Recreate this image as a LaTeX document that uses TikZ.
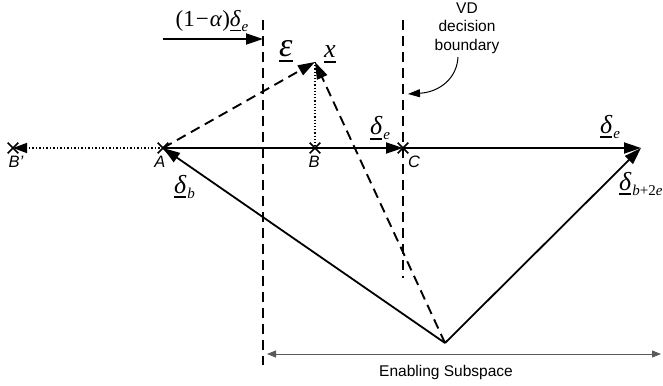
\documentclass[tikz,border=0pt]{standalone}
\usepackage{fontspec}
\setmainfont{Liberation Sans}
\newfontfamily\tms{Liberation Serif}
\usetikzlibrary{arrows.meta,shapes.misc}
\newcommand\ulbox[1]{\leavevmode\vtop{\hbox{#1}\kern3pt\hrule height 1.6pt}}
\newcommand\subtxt[1]{\raisebox{-5pt}{\fontsize{15}{15}\selectfont #1}}
\newcommand\dvec[2]{{\tms\itshape\ulbox{#1}\kern1pt\subtxt{#2}}}
\begin{document}
\begin{tikzpicture}[x=1pt,y=-1pt,
  vec/.style={line width=1.8pt,-{Triangle[length=17pt,width=11pt]}},
  dashln/.style={line width=2.1pt,dash pattern=on 10pt off 6pt},
  dashvec/.style={line width=1.9pt,dash pattern=on 10pt off 6pt,-{Triangle[length=17pt,width=11pt]}},
  crossmark/.style={cross out,draw,line width=1.6pt,minimum size=9pt,inner sep=0pt},
  ptlabel/.style={font=\fontsize{16.5}{18}\selectfont\itshape},
  mlabel/.style={font=\fontsize{26}{28}\selectfont\tms\itshape,inner sep=0pt,anchor=base west},
  sanslabel/.style={font=\fontsize{15.5}{18.5}\selectfont,align=center}]
\useasboundingbox (0,0) rectangle (663,385);
% points
\node[crossmark] (A) at (163,148) {};
\node[crossmark] (Bp) at (13,148) {};
\node[crossmark] (B) at (315,148) {};
\node[crossmark] (C) at (403,148) {};
\coordinate (R) at (641,148);
\coordinate (V) at (445,343);
\coordinate (X) at (315,62);
% dashed boundaries
\coordinate (L1t) at (263,20);
\coordinate (L1b) at (263,365);
\coordinate (L2t) at (403,20);
\coordinate (L2b) at (403,278);
\draw[dashln] (L1t) -- (L1b);
\draw[dashln] (L2t) -- (L2b);
% vectors
\draw[vec] (A.center) -- (C.center);
\draw[vec] (C.center) -- (R);
\draw[vec] (V) -- (A.center);
\draw[vec] (V) -- (R);
\draw[dashvec] (A.center) -- (X);
\draw[dashvec] (V) -- (X);
\draw[line width=1.2pt,dotted] (X) -- (B.center);
\draw[line width=1.5pt,dotted,-{Triangle[length=14pt,width=10pt]}] (A.center) -- (Bp.center);
% (1-alpha) delta_e arrow
\coordinate (Pa) at (163,39);
\coordinate (Pb) at (263,39);
\draw[vec] (Pa) -- (Pb);
\node[mlabel,anchor=center,font=\fontsize{23}{25}\selectfont\tms] (lalpha) at (212,21) {(1\kern1pt−\kern1pt\textit{α})\dvec{δ}{e}};
% labels
\node[ptlabel] (lA) at (160,162) {A};
\node[ptlabel] (lBp) at (16,162) {B'};
\node[ptlabel] (lB) at (314,162) {B};
\node[ptlabel] (lC) at (414,162) {C};
\node[mlabel,font=\fontsize{34}{36}\selectfont\tms\itshape] (leps) at (279,57) {\ulbox{ε}};
\node[mlabel,font=\fontsize{26}{28}\selectfont\tms\itshape] (lx) at (324,58) {\ulbox{x}};
\node[mlabel] (lde1) at (370,135) {\dvec{δ}{e}};
\node[mlabel] (lde2) at (600,133) {\dvec{δ}{e}};
\node[mlabel] (ldb) at (174,193) {\dvec{δ}{b}};
\node[mlabel] (ldb2e) at (619,190) {\dvec{δ}{b\textup{+2}e}};
% VD boundary
\node[sanslabel] (vd) at (467,28) {VD\\decision\\boundary};
\coordinate (vdend) at (408,94);
\draw[line width=1pt,-{Triangle[length=12pt,width=8pt]}] (458,57) .. controls (457,78) and (440,92) .. (vdend);
% enabling subspace
\coordinate (Es) at (267,354);
\coordinate (Ee) at (661,354);
\draw[gray!70!black,line width=0.8pt,{Triangle[length=9pt,width=7pt]}-{Triangle[length=9pt,width=7pt]}] (Es) -- (Ee);
\node[sanslabel] (es) at (446,372) {Enabling Subspace};
\end{tikzpicture}
\end{document}
